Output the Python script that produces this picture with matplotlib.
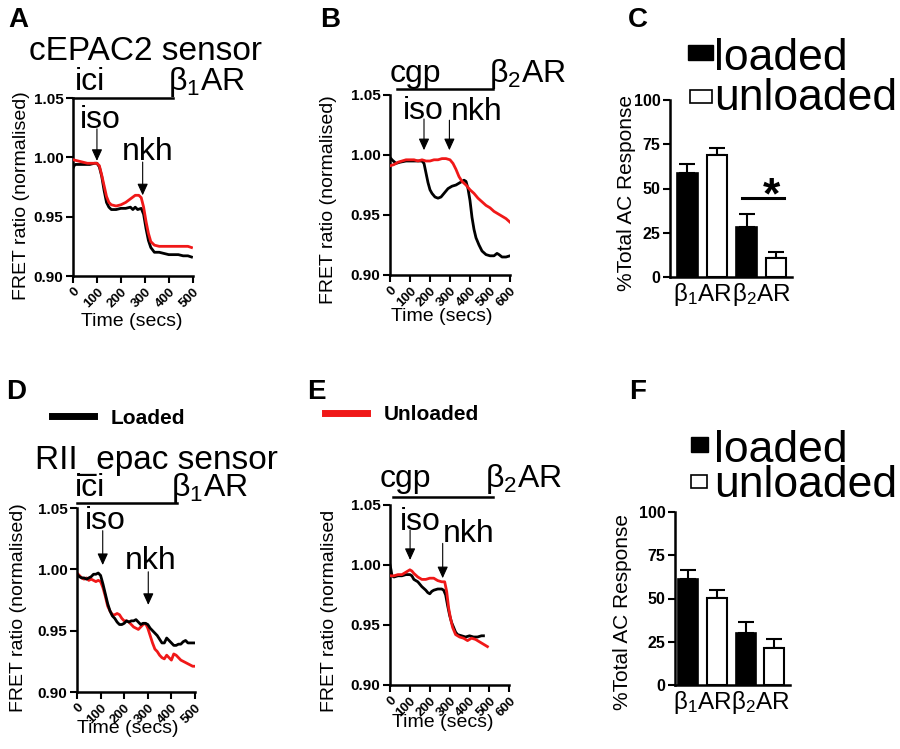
import matplotlib
matplotlib.use('Agg')
import matplotlib.pyplot as plt
from matplotlib.patches import Rectangle
from matplotlib.lines import Line2D

plt.rcParams['font.family'] = ['Liberation Sans', 'DejaVu Sans']
plt.rcParams['mathtext.fontset'] = 'custom'
plt.rcParams['mathtext.rm'] = 'Liberation Sans'
plt.rcParams['mathtext.it'] = 'Liberation Sans:italic'
plt.rcParams['mathtext.bf'] = 'Liberation Sans:bold'

# ---------------- data ----------------
# Panel A (cEPAC2, beta1AR)
a_t_black = [0, 5, 10, 30, 50, 70, 90, 100, 110, 120, 130, 140, 150, 160, 180, 200, 220, 240, 250, 260, 270,
             285, 295, 305, 315, 325, 340, 360, 380, 400, 420, 440, 460, 480, 495]
a_y_black = [0.991, 0.993, 0.994, 0.994, 0.994, 0.994, 0.995, 0.995, 0.992, 0.984, 0.972, 0.962, 0.958, 0.956,
             0.956, 0.957, 0.957, 0.958, 0.956, 0.958, 0.956, 0.957, 0.952, 0.940, 0.930, 0.924, 0.920, 0.920,
             0.919, 0.918, 0.918, 0.918, 0.917, 0.917, 0.916]
a_t_red = [0, 20, 40, 60, 80, 100, 110, 120, 130, 140, 150, 160, 180, 200, 220, 240, 260, 275, 285, 295, 305,
           315, 325, 340, 360, 380, 400, 420, 440, 460, 480, 495]
a_y_red = [0.998, 0.997, 0.996, 0.995, 0.995, 0.995, 0.993, 0.985, 0.976, 0.967, 0.962, 0.960, 0.959, 0.960,
           0.962, 0.965, 0.968, 0.968, 0.966, 0.958, 0.946, 0.936, 0.929, 0.926, 0.925, 0.925, 0.925, 0.925,
           0.925, 0.925, 0.925, 0.924]

# Panel B (cEPAC2, beta2AR)
b_t_black = [0, 10, 30, 50, 80, 100, 130, 160, 170, 180, 190, 200, 210, 225, 240, 255, 270, 290, 310, 330,
             350, 370, 380, 390, 400, 410, 420, 430, 445, 460, 480, 500, 520, 535, 545, 560, 580, 600]
b_y_black = [0.998, 0.996, 0.993, 0.994, 0.995, 0.995, 0.995, 0.995, 0.993, 0.985, 0.977, 0.971, 0.968, 0.965,
             0.964, 0.965, 0.968, 0.972, 0.974, 0.975, 0.977, 0.979, 0.978, 0.972, 0.962, 0.948, 0.938, 0.931,
             0.925, 0.920, 0.917, 0.916, 0.916, 0.918, 0.917, 0.915, 0.915, 0.916]
b_t_red = [0, 20, 40, 60, 80, 100, 120, 140, 160, 180, 200, 220, 240, 260, 280, 300, 315, 330, 345, 360, 380,
           400, 420, 440, 460, 480, 500, 520, 540, 560, 580, 600]
b_y_red = [0.991, 0.992, 0.994, 0.995, 0.996, 0.996, 0.996, 0.995, 0.996, 0.995, 0.995, 0.996, 0.996, 0.997,
           0.997, 0.996, 0.993, 0.988, 0.982, 0.978, 0.975, 0.971, 0.968, 0.964, 0.961, 0.958, 0.956, 0.953,
           0.951, 0.949, 0.947, 0.944]

# Panel D (RII_epac, beta1AR)
d_t = [0, 10, 20, 30, 40, 50, 60, 70, 80, 90, 100, 110, 120, 130, 140, 150, 160, 170, 180, 190, 200, 210, 220,
       230, 240, 250, 260, 270, 280, 290, 300, 310, 320, 330, 340, 350, 360, 370, 380, 390, 400, 410, 420, 430,
       440, 450, 460, 470, 480, 490, 500]
d_y_black = [0.996, 0.994, 0.993, 0.993, 0.992, 0.993, 0.994, 0.996, 0.996, 0.997, 0.995, 0.988, 0.980, 0.972,
             0.966, 0.962, 0.960, 0.957, 0.955, 0.955, 0.956, 0.958, 0.957, 0.958, 0.958, 0.959, 0.957, 0.955,
             0.956, 0.956, 0.955, 0.952, 0.950, 0.948, 0.946, 0.943, 0.940, 0.940, 0.944, 0.942, 0.940, 0.938,
             0.938, 0.939, 0.939, 0.941, 0.942, 0.940, 0.940, 0.940, 0.940]
d_y_red = [0.997, 0.995, 0.993, 0.992, 0.993, 0.991, 0.992, 0.991, 0.990, 0.991, 0.990, 0.985, 0.978, 0.970,
           0.966, 0.963, 0.963, 0.964, 0.963, 0.960, 0.958, 0.958, 0.957, 0.955, 0.953, 0.952, 0.951, 0.953,
           0.955, 0.956, 0.952, 0.946, 0.940, 0.935, 0.933, 0.930, 0.928, 0.927, 0.930, 0.928, 0.926, 0.931,
           0.930, 0.928, 0.926, 0.925, 0.924, 0.923, 0.922, 0.921, 0.921]

# Panel E (RII_epac, beta2AR)
e_t_black = [0, 5, 10, 20, 40, 60, 80, 100, 110, 120, 140, 160, 180, 190, 200, 210, 220, 240, 260, 270, 280,
             290, 300, 310, 320, 330, 340, 360, 380, 400, 420, 440, 460, 470]
e_y_black = [1.000, 0.996, 0.991, 0.990, 0.991, 0.991, 0.992, 0.992, 0.991, 0.988, 0.986, 0.982, 0.979, 0.977,
             0.976, 0.978, 0.979, 0.980, 0.980, 0.979, 0.975, 0.966, 0.958, 0.952, 0.948, 0.944, 0.942, 0.941,
             0.940, 0.941, 0.940, 0.940, 0.941, 0.941]
e_t_red = [0, 20, 40, 60, 80, 90, 100, 110, 120, 140, 160, 180, 200, 220, 240, 260, 275, 285, 295, 305, 315,
           330, 350, 370, 390, 410, 430, 450, 470, 490]
e_y_red = [0.991, 0.991, 0.992, 0.992, 0.994, 0.995, 0.996, 0.995, 0.993, 0.990, 0.988, 0.988, 0.989, 0.989,
           0.987, 0.986, 0.986, 0.978, 0.964, 0.955, 0.948, 0.942, 0.940, 0.939, 0.937, 0.939, 0.938, 0.936,
           0.934, 0.932]

# Panels C and F (bar charts)
bar_groups = [r'β$_1$AR', r'β$_2$AR']
c_loaded = [59.0, 28.3]
c_loaded_err = [4.7, 7.5]
c_unloaded = [68.7, 10.9]
c_unloaded_err = [4.3, 3.3]
f_loaded = [61.0, 29.8]
f_loaded_err = [5.3, 6.4]
f_unloaded = [50.4, 21.2]
f_unloaded_err = [4.4, 5.3]

y_ticks_trace = [0.90, 0.95, 1.00, 1.05]
y_ticks_bar = [0, 25, 50, 75, 100]

W, H = 900, 749
fig = plt.figure(figsize=(9, 7.49), dpi=100)


def rect(l, t, r, b):
    return [l / W, 1 - b / H, (r - l) / W, (b - t) / H]


def style_trace(ax, xmax, ylab, ylab_xy, xlab_xy):
    ax.set_xlim(0, xmax)
    ax.set_ylim(0.90, 1.05)
    for s in ['top', 'right']:
        ax.spines[s].set_visible(False)
    for s in ['left', 'bottom']:
        ax.spines[s].set_linewidth(1.8)
    ax.set_yticks(y_ticks_trace)
    ax.set_yticklabels(['%.2f' % v for v in y_ticks_trace], fontweight='bold', fontsize=11)
    ax.set_xticks(list(range(0, xmax + 1, 100)))
    ax.set_xticklabels([str(v) for v in range(0, xmax + 1, 100)], fontweight='bold', fontsize=9.5,
                       rotation=45, ha='right', rotation_mode='anchor')
    ax.tick_params(direction='out', length=5, width=1.5, pad=2)
    ax.set_ylabel(ylab, fontsize=14)
    ax.yaxis.set_label_coords(*ylab_xy)
    ax.set_xlabel('Time (secs)', fontsize=14)
    ax.xaxis.set_label_coords(*xlab_xy)


def arrow(ax, x, y0, y1):
    ax.annotate('', xy=(x, y1), xytext=(x, y0), annotation_clip=False,
                arrowprops=dict(arrowstyle='-|>,head_length=0.7,head_width=0.32', color='black',
                                lw=0.8, shrinkA=0, shrinkB=0))


ann_fs = 23
RED = '#f01818'

# ---- Panel A ----
axA = fig.add_axes(rect(73, 98, 192.7, 276))
axA.plot(a_t_black, a_y_black, color='black', lw=2.0, zorder=2)
axA.plot(a_t_red, a_y_red, color=RED, lw=2.0, zorder=3)
style_trace(axA, 500, 'FRET ratio (normalised)', (-0.36, 0.45), (0.49, -0.21))
axA.text(301, 1.082, 'cEPAC2 sensor', fontsize=24, ha='center', va='baseline', clip_on=False)
axA.text(8, 1.0565, 'ici', fontsize=ann_fs, ha='left', va='baseline', clip_on=False)
axA.text(396, 1.0565, r'β$_1$AR', fontsize=ann_fs, ha='left', va='baseline', clip_on=False)
axA.plot([1, 418], [1.05, 1.05], color='black', lw=1.8, clip_on=False)
axA.text(30, 1.0247, 'iso', fontsize=ann_fs, ha='left', va='baseline', clip_on=False)
arrow(axA, 100, 1.024, 0.997)
axA.text(206, 0.998, 'nkh', fontsize=ann_fs, ha='left', va='baseline', clip_on=False)
arrow(axA, 291, 0.996, 0.968)

# ---- Panel B ----
axB = fig.add_axes(rect(390, 95, 510, 275))
axB.plot(b_t_black, b_y_black, color='black', lw=2.0, zorder=2)
axB.plot(b_t_red, b_y_red, color=RED, lw=2.0, zorder=3)
style_trace(axB, 600, 'FRET ratio (normalised)', (-0.44, 0.42), (0.43, -0.185))
axB.text(0, 1.0605, 'cgp', fontsize=ann_fs, ha='left', va='baseline', clip_on=False)
axB.text(497, 1.0605, r'β$_2$AR', fontsize=ann_fs, ha='left', va='baseline', clip_on=False)
axB.plot([33, 517], [1.0547, 1.0547], color='black', lw=1.8, clip_on=False)
axB.text(65, 1.0297, 'iso', fontsize=ann_fs, ha='left', va='baseline', clip_on=False)
axB.text(306, 1.0292, 'nkh', fontsize=ann_fs, ha='left', va='baseline', clip_on=False)
arrow(axB, 170, 1.030, 1.004)
arrow(axB, 297, 1.029, 1.004)

# ---- Panel D ----
axD = fig.add_axes(rect(77, 508, 195, 692))
axD.plot(d_t, d_y_black, color='black', lw=2.0, zorder=3)
axD.plot(d_t, d_y_red, color=RED, lw=2.0, zorder=2)
style_trace(axD, 500, 'FRET ratio (normalised)', (-0.42, 0.46), (0.43, -0.15))
axD.text(335, 1.0815, 'RII_epac sensor', fontsize=24, ha='center', va='baseline', clip_on=False)
axD.text(-8, 1.0595, 'ici', fontsize=ann_fs, ha='left', va='baseline', clip_on=False)
axD.text(399, 1.0595, r'β$_1$AR', fontsize=ann_fs, ha='left', va='baseline', clip_on=False)
axD.plot([1, 422], [1.0538, 1.0538], color='black', lw=1.8, clip_on=False)
axD.text(34, 1.0326, 'iso', fontsize=ann_fs, ha='left', va='baseline', clip_on=False)
arrow(axD, 109, 1.0315, 1.0035)
axD.text(203, 1.0, 'nkh', fontsize=ann_fs, ha='left', va='baseline', clip_on=False)
arrow(axD, 302, 0.998, 0.971)

# ---- Panel E ----
axE = fig.add_axes(rect(390, 505, 509.3, 685))
axE.plot(e_t_black, e_y_black, color='black', lw=2.0, zorder=2)
axE.plot(e_t_red, e_y_red, color=RED, lw=2.0, zorder=3)
style_trace(axE, 600, 'FRET ratio (normalised', (-0.44, 0.41), (0.44, -0.16))
axE.text(-50, 1.0653, 'cgp', fontsize=ann_fs, ha='left', va='baseline', clip_on=False)
axE.text(476, 1.0653, r'β$_2$AR', fontsize=ann_fs, ha='left', va='baseline', clip_on=False)
axE.plot([17, 517], [1.0564, 1.0564], color='black', lw=1.8, clip_on=False)
axE.text(48, 1.0292, 'iso', fontsize=ann_fs, ha='left', va='baseline', clip_on=False)
axE.text(266, 1.0194, 'nkh', fontsize=ann_fs, ha='left', va='baseline', clip_on=False)
arrow(axE, 101, 1.029, 1.0042)
arrow(axE, 265, 1.018, 0.989)

# legend lines for D/E
fig.legend(handles=[Line2D([], [], color='black', lw=5)], labels=['Loaded'],
           loc='center left', bbox_to_anchor=(42 / W, 1 - 418 / H), frameon=False,
           prop=dict(weight='bold', size=15), handlelength=2.0, handletextpad=0.8, borderpad=0)
fig.legend(handles=[Line2D([], [], color=RED, lw=5)], labels=['Unloaded'],
           loc='center left', bbox_to_anchor=(315 / W, 1 - 415 / H), frameon=False,
           prop=dict(weight='bold', size=15), handlelength=2.0, handletextpad=0.8, borderpad=0)


# ---- bar panels ----
def bar_panel(ax, loaded, loaded_err, unloaded, unloaded_err, xlim, width, ylab_xy):
    pos_l = [0, 2]
    pos_u = [1, 3]
    ax.bar(pos_l, loaded, width=width, color='black', edgecolor='black', linewidth=1.2, zorder=2)
    ax.bar(pos_u, unloaded, width=width, color='white', edgecolor='black', linewidth=1.5, zorder=2)
    ax.errorbar(pos_l, loaded, yerr=[[0, 0], loaded_err], fmt='none', ecolor='black', elinewidth=1.5,
                capsize=6, capthick=1.5, zorder=1)
    ax.errorbar(pos_u, unloaded, yerr=[[0, 0], unloaded_err], fmt='none', ecolor='black', elinewidth=1.5,
                capsize=6, capthick=1.5, zorder=1)
    ax.set_xlim(*xlim)
    ax.set_ylim(0, 100)
    for s in ['top', 'right']:
        ax.spines[s].set_visible(False)
    for s in ['left', 'bottom']:
        ax.spines[s].set_linewidth(1.8)
    ax.set_yticks(y_ticks_bar)
    ax.set_yticklabels([str(v) for v in y_ticks_bar], fontweight='bold', fontsize=11.5)
    ax.set_xticks([0.5, 2.5])
    ax.set_xticklabels(bar_groups, fontsize=17.5)
    ax.tick_params(axis='y', direction='out', length=5, width=1.5, pad=2)
    ax.tick_params(axis='x', length=0, pad=3)
    ax.set_ylabel('%Total AC Response', fontsize=15)
    ax.yaxis.set_label_coords(*ylab_xy)


def bar_legend(ax, sq_black, sq_white, txt_loaded, txt_unloaded, fs):
    (x0, y0, x1, y1) = sq_black
    ax.add_patch(Rectangle((x0, y0), x1 - x0, y1 - y0, transform=ax.transAxes, facecolor='black',
                           edgecolor='black', lw=1, clip_on=False))
    (x0, y0, x1, y1) = sq_white
    ax.add_patch(Rectangle((x0, y0), x1 - x0, y1 - y0, transform=ax.transAxes, facecolor='white',
                           edgecolor='black', lw=1.2, clip_on=False))
    ax.text(txt_loaded[0], txt_loaded[1], 'loaded', fontsize=fs, transform=ax.transAxes,
            ha='left', va='baseline', clip_on=False)
    ax.text(txt_unloaded[0], txt_unloaded[1], 'unloaded', fontsize=fs, transform=ax.transAxes,
            ha='left', va='baseline', clip_on=False)


axC = fig.add_axes(rect(670, 100, 792, 277))
bar_panel(axC, c_loaded, c_loaded_err, c_unloaded, c_unloaded_err, (-0.59, 3.54), 0.7, (-0.28, 0.475))
axC.plot([1.85, 3.27], [44.8, 44.8], color='black', lw=2.2, clip_on=False)
axC.text(2.85, 39.0, '*', fontsize=32, fontweight='bold', ha='center', va='baseline')
bar_legend(axC, (0.148, 1.226, 0.352, 1.311), (0.164, 0.983, 0.344, 1.056),
           (0.36, 1.169), (0.36, 0.944), 32)

axF = fig.add_axes(rect(675, 512, 790, 685))
bar_panel(axF, f_loaded, f_loaded_err, f_unloaded, f_unloaded_err, (-0.45, 3.54), 0.69, (-0.375, 0.42))
bar_legend(axF, (0.137, 1.349, 0.29, 1.435), (0.137, 1.139, 0.281, 1.214),
           (0.34, 1.289), (0.34, 1.087), 32)

# panel letters
for lab, x, y in [('A', 8, 7), ('B', 320, 7), ('C', 628, 7), ('D', 6, 379), ('E', 307, 379), ('F', 629, 379)]:
    fig.text(x / W, 1 - y / H, lab, fontsize=20, fontweight='bold', ha='left', va='top')

fig.savefig('out.png', dpi=100)
